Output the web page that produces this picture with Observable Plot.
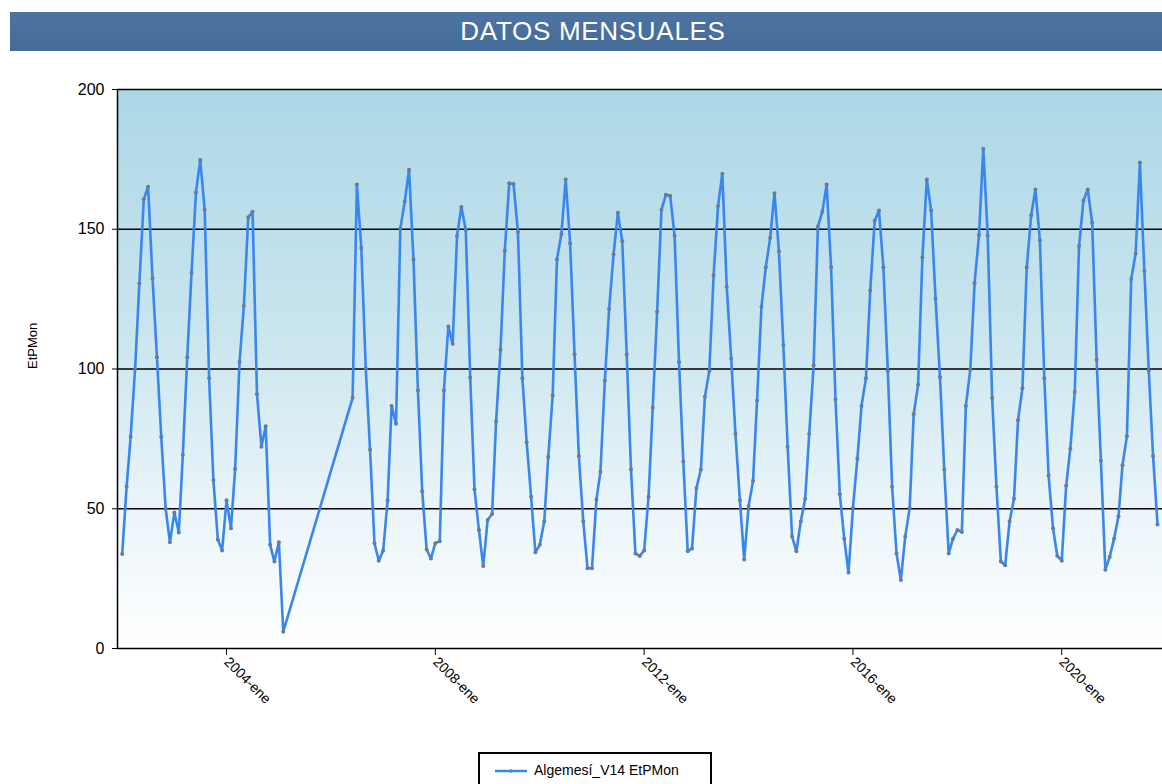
<!DOCTYPE html>
<html>
<head>
<meta charset="utf-8">
<script src="https://cdn.jsdelivr.net/npm/d3@7"></script>
<script src="https://cdn.jsdelivr.net/npm/@observablehq/plot@0.6"></script>
<style>
  html, body { margin: 0; padding: 0; background: #ffffff; width: 1162px; height: 784px; overflow: hidden; position: relative; font-family: "Liberation Sans", Arial, sans-serif; }
  #title { position: absolute; left: 10px; top: 12px; width: 1152px; height: 39px; background: linear-gradient(#4d73a0, #456b98); color: #fff; font-size: 26px; letter-spacing: 0.7px; line-height: 39px; text-align: center; text-indent: 14px; }
  #chart { position: absolute; left: 0; top: 60px; }
  #legend { position: absolute; left: 478px; top: 752px; width: 230px; height: 40px; border: 2px solid #000; background: #fff; font-size: 14px; }
  #legend svg { position: absolute; left: 13px; top: 10px; }
  #legend span { position: absolute; left: 54px; top: 8px; }
</style>
</head>
<body>
<div id="title">DATOS MENSUALES</div>
<div id="chart"></div>
<div id="legend"><svg width="36" height="14"><line x1="2" y1="7" x2="34" y2="7" stroke="#3a86ef" stroke-width="2.5"/><circle cx="18" cy="7" r="1.8" fill="#6d7f93"/></svg><span>Algemesí_V14 EtPMon</span></div>
<script>
// Monthly EtPMon values (Jan..Dec); null = no data
const years = [2002, 2003, 2004, 2005, 2006, 2007, 2008, 2009, 2010, 2011, 2012, 2013, 2014, 2015, 2016, 2017, 2018, 2019, 2020, 2021];
const v2002 = [33.8, 58, 75.8, 100, 130.7, 160.7, 165.2, 132.5, 104.2, 75.8, 50, 38];
const v2003 = [48.7, 41.5, 69.3, 104.2, 134.4, 163.2, 174.8, 157, 96.7, 60.3, 39, 35.1];
const v2004 = [53, 43, 64.2, 102.6, 122.5, 154.3, 156.3, 91, 72.2, 79.5, 37.1, 31.1];
const v2005 = [38, 6, null, null, null, null, null, null, null, null, null, null];
const v2006 = [null, null, null, null, null, 89.7, 166, 143.3, 100.3, 71.1, 37.7, 31.4];
const v2007 = [35.1, 53, 86.8, 80.4, 150.3, 159.9, 171.3, 139.1, 92.3, 56.3, 35.4, 32.2];
const v2008 = [37.7, 38.4, 92.3, 115.2, 109, 147.7, 158, 149.7, 97, 57, 42.4, 29.5];
const v2009 = [46, 48.1, 81.2, 106.9, 142.4, 166.5, 166.2, 149, 96.7, 73.8, 54.3, 34.4];
const v2010 = [37.1, 45.4, 68.5, 90.5, 139.3, 148.3, 167.8, 145, 105.3, 68.9, 45.4, 28.7];
const v2011 = [28.7, 53.2, 63.2, 95.8, 121.6, 141.1, 155.9, 145.7, 105.3, 64, 34, 33.1];
const v2012 = [35.1, 54.3, 86.1, 120.5, 157, 162.3, 162, 147.7, 102.4, 66.9, 34.8, 35.8];
const v2013 = [57.4, 64, 90.1, 99.3, 133.5, 158.3, 169.9, 129.4, 103.7, 76.8, 53, 31.8];
const v2014 = [51, 60, 88.7, 122.3, 136.4, 147, 162.9, 142.1, 108.6, 72.2, 40.1, 34.8];
const v2015 = [45.4, 53.6, 76.8, 101.3, 151, 156.3, 166, 136.4, 89.1, 55.2, 39.3, 27.2];
const v2016 = [50.3, 67.9, 86.8, 96.7, 128.1, 153, 156.7, 136.4, 99.3, 57.9, 34, 24.5];
const v2017 = [40.1, 50.3, 83.8, 94.4, 140, 167.8, 156.7, 125.2, 97.1, 64, 34, 39.3];
const v2018 = [42.4, 41.7, 86.8, 99.7, 130.7, 147.9, 178.8, 147.7, 89.7, 57.9, 31.1, 29.8];
const v2019 = [45.4, 53.6, 81.7, 93.1, 136.4, 155, 164.2, 146.1, 96.7, 61.9, 43, 33.1];
const v2020 = [31.4, 58.3, 71.5, 91.8, 144, 160.3, 164.2, 152.3, 103.3, 67.2, 28.2, 32.7];
const v2021 = [39.3, 47.3, 65.6, 75.9, 132.2, 141.3, 173.9, 135.1, 99.3, 68.9, 44.4, null];
const yearValues = [v2002, v2003, v2004, v2005, v2006, v2007, v2008, v2009, v2010, v2011, v2012, v2013, v2014, v2015, v2016, v2017, v2018, v2019, v2020, v2021];

const xDomain = [new Date(Date.UTC(2001, 10, 29)), new Date(Date.UTC(2021, 11, 6))];
const xTickYears = [2004, 2008, 2012, 2016, 2020];
const yTicks = [0, 50, 100, 150, 200];
const gridValues = [50, 100, 150, 200];
const seriesName = "Algemesí_V14 EtPMon";
const yLabel = "EtPMon";

const data = [];
years.forEach((yr, i) => {
  yearValues[i].forEach((v, m) => {
    if (v != null) data.push({date: new Date(Date.UTC(yr, m, 1)), value: v});
  });
});

const plot = Plot.plot({
  width: 1162,
  height: 670,
  marginTop: 29,
  marginBottom: 82,
  marginLeft: 117,
  marginRight: 0,
  style: {fontFamily: "'Liberation Sans', Arial, sans-serif", color: "#000", background: "transparent"},
  x: {type: "utc", domain: xDomain},
  y: {domain: [0, 200]},
  marks: [
    Plot.frame({fill: "url(#bgGrad)", stroke: "none"}),
    Plot.ruleY(gridValues, {stroke: "#000", strokeWidth: 1.3}),
    Plot.ruleY([0], {stroke: "#000", strokeWidth: 1.5}),
    Plot.ruleX([xDomain[0]], {stroke: "#000", strokeWidth: 1.5}),
    Plot.axisY({ticks: yTicks, tickSize: 5, tickPadding: 8, fontSize: 16, label: null}),
    Plot.axisX({ticks: xTickYears.map(y => new Date(Date.UTC(y, 0, 1))), tickSize: 7, tickPadding: 4, tickRotate: 45,
      tickFormat: d => `${d.getUTCFullYear()}-ene`, fontSize: 14, label: null}),
    Plot.text([yLabel], {frameAnchor: "left", dx: -85, rotate: -90, fontSize: 13, fill: "#000"}),
    Plot.line(data, {x: "date", y: "value", stroke: "#3a86ef", strokeWidth: 2.6, strokeLinejoin: "round"}),
    Plot.dot(data, {x: "date", y: "value", r: 2, fill: "#6a7c90", stroke: "none"})
  ]
});

const svg = d3.select(plot);
const defs = svg.insert("defs", ":first-child");
const grad = defs.append("linearGradient").attr("id", "bgGrad").attr("x1", 0).attr("y1", 0).attr("x2", 0).attr("y2", 1);
grad.append("stop").attr("offset", "0%").attr("stop-color", "#acd7e7");
grad.append("stop").attr("offset", "45%").attr("stop-color", "#cbe6ef");
grad.append("stop").attr("offset", "75%").attr("stop-color", "#eaf5f9");
grad.append("stop").attr("offset", "100%").attr("stop-color", "#ffffff");

document.getElementById("chart").appendChild(plot);
</script>
</body>
</html>
